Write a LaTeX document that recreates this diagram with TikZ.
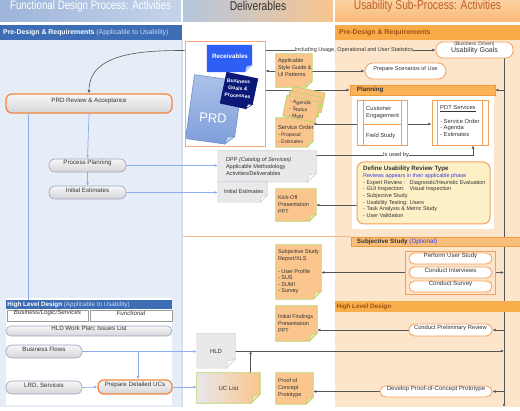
\documentclass[tikz,border=0pt]{standalone}
\usepackage{fontspec}
\setmainfont{Liberation Sans}
\newfontfamily\hdfont[FakeStretch=0.8]{Liberation Sans}
\usetikzlibrary{fit,calc,arrows.meta}
\pgfdeclarelayer{bg}
\pgfdeclarelayer{edges}
\pgfdeclarelayer{shapes}
\pgfsetlayers{bg,edges,shapes,main}
\definecolor{leftbg}{HTML}{E6EDF6}
\definecolor{rightbg}{HTML}{FDE5CC}
\definecolor{bandblue}{HTML}{3D6DB5}
\definecolor{bandtxt}{HTML}{C9DBF5}
\definecolor{bandorange}{HTML}{F9AB4A}
\definecolor{darkor}{HTML}{A34E0F}
\definecolor{hlA}{HTML}{9DB5D9}
\definecolor{hlB}{HTML}{C6D4EA}
\definecolor{hmA}{HTML}{B4C6DF}
\definecolor{hmB}{HTML}{F8C58E}
\definecolor{hrA}{HTML}{FBD2A2}
\definecolor{hrB}{HTML}{F8B976}
\definecolor{hrtxt}{HTML}{BF5F26}
\definecolor{txt}{HTML}{333333}
\definecolor{orangeB}{HTML}{F5853A}
\definecolor{pillB}{HTML}{F3A05C}
\definecolor{grayB}{HTML}{9EA2BF}
\definecolor{boxT}{HTML}{F7F7F7}
\definecolor{boxB}{HTML}{D5D5D8}
\definecolor{cellB}{HTML}{9A9A9A}
\definecolor{noteF}{HTML}{FBC58E}
\definecolor{noteL}{HTML}{FDE0C0}
\definecolor{noteB}{HTML}{BCD36A}
\definecolor{gnoteF}{HTML}{E9E9EB}
\definecolor{gnoteB}{HTML}{D2D2D6}
\definecolor{lineG}{HTML}{555555}
\definecolor{blueL}{HTML}{8CAEF0}
\definecolor{rboxB}{HTML}{F7A77C}
\definecolor{prdF}{HTML}{7F9FDA}
\definecolor{prdB}{HTML}{6C8DD0}
\definecolor{prdL}{HTML}{C9D7F2}
\definecolor{navyC}{HTML}{0A1878}
\definecolor{recvF}{HTML}{2F5EF4}
\definecolor{recvL}{HTML}{BFD0FF}
\definecolor{durF}{HTML}{FDF0C6}
\definecolor{ssbandF}{HTML}{F9BF7C}
\definecolor{hldoF}{HTML}{F9AE4C}
\definecolor{planF}{HTML}{FAB257}
\definecolor{bandB}{HTML}{F09A3A}
\definecolor{bluetxt}{HTML}{3B3BE0}
\definecolor{sepor}{HTML}{F8BB8E}
\definecolor{colsep}{HTML}{D5E1F1}
\definecolor{ucL}{HTML}{E8E8EA}
\newcommand\fs[2]{\fontsize{#1pt}{#2pt}\selectfont}
\newcommand\noteshape[4]{%
  \coordinate (#2-A) at ($(#2.south east)!#3!(#2.south west)$);
  \coordinate (#2-B) at ($(#2.south east)!#3!(#2.north east)$);
  \coordinate (#2-M) at ($(#2-A)!0.5!(#2-B)$);
  \coordinate (#2-C) at ($(#2.south east)!1.6!(#2-M)$);
  \begin{pgfonlayer}{shapes}
    \path[#1] (#2.north west) -- (#2.north east) -- (#2-B) -- (#2-A) -- (#2.south west) -- cycle;
    \path[#4] (#2-A) -- (#2-B) -- (#2-C) -- cycle;
  \end{pgfonlayer}}
\begin{document}
\begin{tikzpicture}[x=1pt,y=-1pt,
  every node/.style={text=txt, inner sep=0pt},
  gbox/.style={draw=grayB, line width=0.6pt, rounded corners=6pt, top color=boxT, bottom color=boxB, font=\fs{6.2}{7.2}},
  obox/.style={gbox, draw=orangeB, line width=1.2pt},
  pill/.style={draw=pillB, line width=0.8pt, fill=white, rounded corners=5.5pt, font=\fs{6.1}{7}},
  note/.style={fill=noteF, draw=noteB, line width=0.8pt},
  nfold/.style={fill=noteL, draw=noteB, line width=0.6pt, line join=round},
  gnote/.style={fill=gnoteF, draw=gnoteB, line width=0.6pt},
  gfold/.style={fill=white, draw=gnoteB, line width=0.5pt},
  ntx/.style={font=\fs{5.5}{7}, align=left, anchor=west},
  cell/.style={draw=cellB, line width=0.5pt, fill=white, font=\itshape\fs{6.2}{7}},
  orframe/.style={draw=pillB, line width=0.8pt},
  gline/.style={draw=lineG, line width=0.6pt},
  garrow/.style={gline, -{Latex[length=3.2pt,width=2.8pt]}},
  bline/.style={draw=blueL, line width=0.7pt},
  barrow/.style={bline, -{Latex[length=3.2pt,width=2.8pt]}},
  hdr/.style={font=\hdfont\fs{12.8}{14}},
  bandtext/.style={anchor=west, font=\bfseries\fs{6.3}{7}},
]
\useasboundingbox (0,0) rectangle (520,411);
\begin{pgfonlayer}{bg}
  \fill[white] (0,0) rectangle (520,411);
  \fill[leftbg] (0,40) rectangle (181,407);
  \fill[rightbg] (335,40) rectangle (520,407);
  \draw[colsep, line width=1.5pt] (182,40) -- (182,407);
  \fill[white] (6,298) rectangle (172,405);
  \fill[white] (352,96) rectangle (494,229);
  \fill[bandblue] (0,25) rectangle (182,40);
  \fill[bandorange] (335,25) rectangle (520,40);
  \draw[sepor, line width=1pt] (183,236.5) -- (351,236.5);
\end{pgfonlayer}

% headers
\node[hdr, font=\hdfont\fs{12.2}{14}, fit={(0,0) (181,22)}, left color=hlA, right color=hlB, text=white] (h1) {Functional Design Process: Activities};
\node[hdr, fit={(183,0) (333,22)}, left color=hmA, right color=hmB] (h2) {Deliverables};
\node[hdr, fit={(335,0) (520,22)}, top color=hrA, bottom color=hrB, text=hrtxt] (h3) {Usability Sub-Process: Activities};
\node[anchor=west, font=\fs{6.9}{8}, text=white] (b1) at (3,33) {\textbf{Pre-Design \& Requirements} \textcolor{bandtxt}{(Applicable to Usability)}};
\node[anchor=west, font=\bfseries\fs{6.9}{8}, text=darkor] (b3) at (339,33) {Pre-Design \& Requirements};

% left column
\node[obox, fit={(6,94) (172,113)}] (prd) {PRD Review \& Acceptance};
\node[gbox, fit={(49,159) (126,172)}] (pp) {Process Planning};
\node[gbox, fit={(49,186) (126,199)}] (ie) {Initial Estimates};
\node[fill=bandblue, fit={(6,300) (172,309)}] (hldb) {};
\node[bandtext, font=\fs{6.3}{7}, text=white] (hldbt) at ([xshift=1.5pt]hldb.west) {\textbf{High Level Design} \textcolor{bandtxt}{(Applicable to Usability)}};
\node[cell, fit={(7,310) (88,321)}] (bls) {Business/Logic/Services};
\node[cell, fit={(90,310) (172,321)}] (fun) {Functional};
\node[gbox, rounded corners=5pt, fit={(6,326) (172,336)}] (hwp) {HLD Work Plan; Issues List};
\node[gbox, fit={(6,345) (82,358)}] (bf) {Business Flows};
\node[gbox, fit={(6,381) (82,394)}] (lrd) {LRD, Services};
\node[obox, fit={(98,380) (172,394)}] (pduc) {Prepare Detailed UCs};

% middle column
\node[draw=rboxB, line width=1pt, fit={(185,42) (265,147)}] (rbox) {};
\node[rotate=-8, minimum width=48pt, minimum height=64pt] (prddoc) at (214,110) {};
\noteshape{top color=prdL!60!prdF, bottom color=prdF, draw=prdB, line width=0.6pt}{prddoc}{9pt}{fill=prdL, draw=prdB, line width=0.5pt}
\node[rotate=-5, font=\fs{13}{14}, text=white] (prdt) at (213,118) {PRD};
\node[fit={(207,45) (252,72)}] (recv) {};
\noteshape{fill=recvF}{recv}{7pt}{fill=recvL}
\node[font=\bfseries\fs{6.2}{7}, text=white] (recvt) at (230,56) {Receivables};
\node[rotate=-12, minimum width=32pt, minimum height=32pt] (bgp) at (239,91) {};
\noteshape{fill=navyC}{bgp}{6pt}{fill=white, draw=navyC}
\node[rotate=-4, font=\bfseries\fs{5.2}{7.2}, text=white, align=center] (bgpt) at (238,88.5) {Business\\Goals \&\\Processes};

\node[fit={(276,54) (312,87)}] (sg) {};
\noteshape{note}{sg}{6pt}{nfold}
\node[ntx] (sgt) at ([xshift=2pt,yshift=3pt]sg.west) {Applicable\\Style Guide \&\\UI Patterns};

\node[note, rotate=-12, minimum width=33pt, minimum height=20pt] (ag1) at (307,99.5) {};
\node[note, rotate=-12, minimum width=33pt, minimum height=20pt] (ag2) at (304,104) {};
\node[note, rotate=-12, minimum width=33pt, minimum height=21pt] (ag3) at (301,109) {};
\node[rotate=-4, font=\fs{5.2}{7}, align=left] (ag3t) at (300,109.5) {- Agenda\\- Status\\- MoM};

\node[fit={(276,118) (313,147)}] (so) {};
\noteshape{note}{so}{6pt}{nfold}
\node[ntx] (sot) at ([xshift=2pt,yshift=-1.5pt]so.west) {{\fs{5.8}{6.5}Service Order}\\{\fs{5}{6.3}- Proposal}\\{\fs{5}{6.3}- Estimates}};

\node[fit={(218,151) (316,182)}] (dpp) {};
\noteshape{gnote}{dpp}{9pt}{gfold}
\node[ntx, font=\fs{5.6}{7}] (dppt) at ([xshift=8pt]dpp.west) {DPP \textit{(Catalog of Services)}\\Applicable Methodology\\Activities/Deliverables};
\node[fit={(218,182) (267,202)}] (iest) {};
\noteshape{gnote}{iest}{7pt}{gfold}
\node[ntx, font=\fs{5.6}{7}] (iestt) at ([xshift=6pt]iest.west) {Initial Estimates};

\node[fit={(276,189) (316,221)}] (ko) {};
\noteshape{note}{ko}{7pt}{nfold}
\node[ntx] (kot) at ([xshift=2pt]ko.west) {Kick-Off\\Presentation\\PPT};

\node[fit={(276,245) (321,299)}] (ssr) {};
\noteshape{note}{ssr}{8pt}{nfold}
\node[ntx, font=\fs{5.5}{6.5}] (ssrt) at ([xshift=2pt]ssr.west) {Subjective Study\\Report/XLS\\[6.5pt]- User Profile\\- SUS\\- SUMI\\- Survey};

\node[fit={(276,306) (317,341)}] (ifp) {};
\noteshape{note}{ifp}{8pt}{nfold}
\node[ntx] (ifpt) at ([xshift=2pt]ifp.west) {Initial Findings\\Presentation\\PPT};

\node[fit={(197,334) (235,368)}] (hld) {};
\noteshape{gnote}{hld}{9pt}{gfold}
\node[font=\fs{6}{7}] (hldt) at (hld.center) {HLD};

\node[fit={(197,373) (260,403)}] (uc) {};
\noteshape{left color=ucL, right color=noteF, draw=noteB, line width=0.8pt}{uc}{9pt}{nfold}
\node[font=\fs{6}{7}] (uct) at (uc.center) {UC List};

\node[fit={(276,373) (313,404)}] (poc) {};
\noteshape{note}{poc}{7pt}{nfold}
\node[ntx] (poct) at ([xshift=2pt]poc.west) {Proof of\\Concept\\Prototype};

% right column
\node[pill, rounded corners=7pt, fit={(436,42) (513,58)}, align=center] (ug) {{\fs{5}{5.5}(Business Driven)}\\{\fs{7}{7.5}Usability Goals}};
\node[font=\fs{5.5}{6.5}] (lbl) at (354,50) {Including Usage, Operational and User Statistics};
\node[pill, rounded corners=8pt, font=\fs{5.6}{6.5}, fit={(365,63) (446,79)}] (scen) {Prepare Scenarios of Use};
\node[fill=planF, draw=bandB, line width=0.5pt, fit={(350,85) (495,95)}] (plan) {};
\node[bandtext, text=txt] (plant) at ([xshift=7pt]plan.west) {Planning};

\node[orframe, fill=white, fit={(357,100) (407,145)}] (cust) {};
\draw[orframe] ([xshift=6.5pt]cust.north west) -- ([xshift=6.5pt]cust.south west)
               ([xshift=-6.5pt]cust.north east) -- ([xshift=-6.5pt]cust.south east)
               ([xshift=6.5pt,yshift=-1.5pt]cust.west) -- ([xshift=-6.5pt,yshift=-1.5pt]cust.east);
\node[anchor=west, align=left, font=\fs{5.8}{7.3}] (custt1) at (366,112.5) {Customer\\Engagement};
\node[anchor=west, font=\fs{5.8}{7.3}] (custt2) at (366,135.7) {Field Study};

\node[orframe, fill=white, fit={(432,100) (488,145)}] (pdt) {};
\draw[orframe] ([xshift=5.5pt]pdt.north west) -- ([xshift=5.5pt]pdt.south west)
               ([xshift=-6.5pt]pdt.north east) -- ([xshift=-6.5pt]pdt.south east);
\node[anchor=north west, align=left, font=\fs{5.8}{6.7}] (pdtt) at (440,105.5) {\underline{PDT Services}\\[6.6pt]- Service Order\\- Agenda\\- Estimates};

\node[font=\fs{5.7}{6.5}] (iub) at (396,155) {Is used by};

\node[draw=pillB, line width=1pt, fill=durF, rounded corners=7pt, fit={(357,162) (490,224)}] (dur) {};
\node[anchor=north west, align=left, font=\fs{5.5}{6.7}] (durt) at (363,166) {{\bfseries\fs{6.2}{7}Define Usability Review Type}\\
\textcolor{bluetxt}{Reviews appears in their applicable phase}\\
\makebox[46.5pt][l]{- Expert Review :}Diagnostic/Heuristic Evaluation\\
\makebox[46.5pt][l]{- GUI Inspection:}Visual Inspection\\
- Subjective Study\\
- Usability Testing: Users\\
- Task Analysis \& Metric Study\\
- User Validation};

\node[fill=ssbandF, draw=bandB, line width=0.5pt, fit={(351,237) (520,246)}] (ssb) {};
\node[bandtext, text=txt] (ssbt) at ([xshift=6pt]ssb.west) {Subjective Study \textcolor{bluetxt}{\mdseries(Optional)}};
\node[orframe, fit={(405,251) (495,294)}] (ssbox) {};
\node[pill, fit={(409,253) (492,264)}] (pus) {Perform User Study};
\node[pill, fit={(409,267) (492,278)}] (ci) {Conduct Interviews};
\node[pill, fit={(409,281) (492,292)}] (cs) {Conduct Survey};

\node[fill=hldoF, fit={(335,301) (520,312)}] (hldo) {};
\node[bandtext, text=darkor] (hldot) at ([xshift=1.5pt]hldo.west) {High Level Design};
\node[pill, font=\fs{5.8}{6.5}, fit={(409,324) (492,336)}] (cpr) {Conduct Preliminary Review};
\node[pill, fit={(380,386) (492,397)}] (dev) {Develop Proof-of-Concept Prototype};
\coordinate (vbot) at (504,407);

% connectors
\begin{pgfonlayer}{edges}
  \draw[garrow] ([yshift=-9pt]rbox.north west) to[out=180,in=90] (prd.north);
  \draw[barrow] (prd.south) -- (pp.north);
  \draw[bline] ([xshift=22.5pt]prd.south west) -- ([xshift=22.5pt]prd.south west |- hldb.north);
  \draw[barrow] (pp.south) -- (ie.north);
  \draw[barrow] (pp.east) -- (dpp.west |- pp.east);
  \draw[barrow] (ie.east) -- (iest.west |- ie.east);
  \draw[barrow] (bf.east) -- (hld.west |- bf.east);
  \draw[barrow] ([xshift=3pt]pduc.north |- bf.east) -- ([xshift=3pt]pduc.north);
  \draw[barrow] (lrd.east) -- (pduc.west);
  \draw[barrow] (pduc.east) -- (uc.west |- pduc.east);

  \draw[gline] (rbox.east |- lbl.west) -- (lbl.west);
  \draw[garrow] (lbl.east) -- (ug.west |- lbl.east);
  \draw[garrow] (vbot |- ug.south) -- (vbot);
  \draw[gline, {Latex[length=3.2pt,width=2.8pt]}-{Latex[length=3.2pt,width=2.8pt]}] (rbox.east |- scen.west) -- (scen.west);
  \draw[garrow] (rbox.east |- plan.west) -- (plan.west);
  \draw[garrow] (vbot |- plan.east) -- (plan.east);
  \draw[garrow] ([yshift=-1.5pt]cust.east) -- ([yshift=-1.5pt]cust.east -| pdt.west);
  \draw[garrow] ([yshift=-1.5pt]cust.west) -- ([yshift=-1.5pt]cust.west -| so.east);
  \draw[gline] (dpp.east |- iub.west) -- (iub.west);
  \draw[garrow] (iub.east) -| ([xshift=13pt]pdt.south);
  \draw[garrow] (dur.west |- ko.east) -- (ko.east);
  \draw[garrow] (ssbox.west) -- (ssr.east |- ssbox.west);
  \draw[garrow] (ssbox.east) -- (vbot |- ssbox.east);
  \draw[garrow] (vbot |- cpr.east) -- (cpr.east);
  \draw[garrow] (cpr.west) -- (ifp.east |- cpr.west);
  \draw[garrow] (hld.east) -- (vbot |- hld.east);
  \draw[garrow] ([xshift=-9.5pt]uc.north east) -- ([xshift=-9.5pt]uc.north east |- hld.east);
  \draw[garrow] (vbot |- dev.east) -- (dev.east);
  \draw[garrow] (dev.west) -- (poc.east |- dev.west);
\end{pgfonlayer}
\end{tikzpicture}
\end{document}
